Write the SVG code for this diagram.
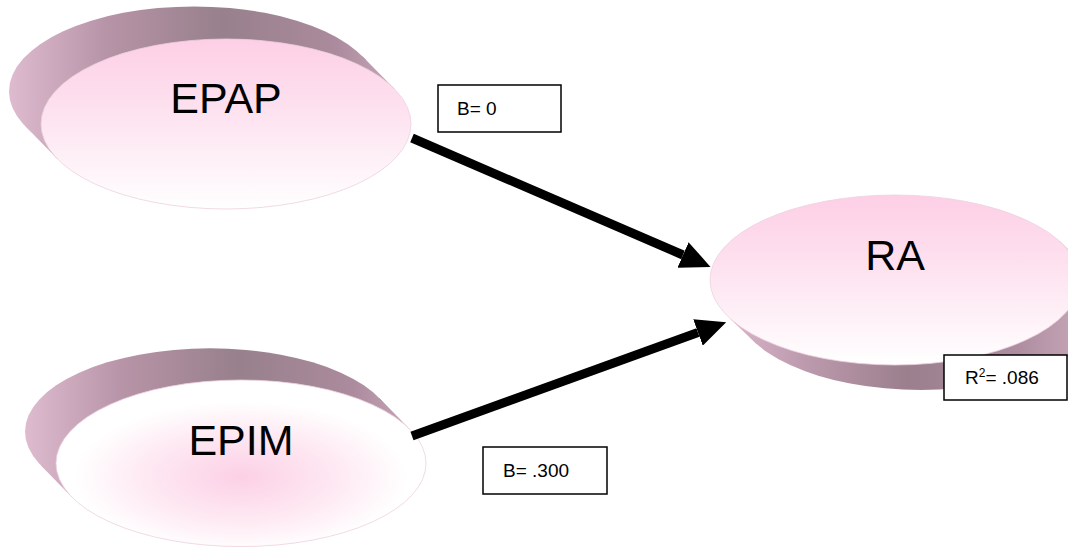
<svg xmlns="http://www.w3.org/2000/svg" width="1068" height="548" viewBox="0 0 1068 548">
<style>
.lbl{font-family:"Liberation Sans",Arial,sans-serif;font-size:43px;fill:#000;text-anchor:middle}
.val{font-family:"Liberation Sans",Arial,sans-serif;font-size:19px;fill:#000}
.box{fill:#fff;stroke:#000;stroke-width:1.5}
.front{stroke:#ecd0de;stroke-width:0.8}
.shaft{stroke:#000;stroke-width:9;fill:none}
</style>
<defs>
<linearGradient id="sideA" gradientUnits="userSpaceOnUse" x1="9" y1="0" x2="395" y2="0">
<stop offset="0" stop-color="#dfbbcf"/><stop offset="0.25" stop-color="#b794a7"/><stop offset="0.55" stop-color="#98808c"/><stop offset="0.85" stop-color="#ab8b9d"/><stop offset="1" stop-color="#c6a6b7"/>
</linearGradient>
<linearGradient id="sideB" gradientUnits="userSpaceOnUse" x1="25" y1="0" x2="411" y2="0">
<stop offset="0" stop-color="#dfbbcf"/><stop offset="0.25" stop-color="#b794a7"/><stop offset="0.55" stop-color="#98808c"/><stop offset="0.85" stop-color="#ab8b9d"/><stop offset="1" stop-color="#c6a6b7"/>
</linearGradient>
<linearGradient id="sideC" gradientUnits="userSpaceOnUse" x1="725" y1="0" x2="1090" y2="0">
<stop offset="0" stop-color="#dcb6ca"/><stop offset="0.2" stop-color="#bf9cb0"/><stop offset="0.5" stop-color="#9b7f8d"/><stop offset="0.8" stop-color="#ad8d9f"/><stop offset="1" stop-color="#caa9bb"/>
</linearGradient>
<linearGradient id="frontV" x1="0" y1="0" x2="0" y2="1">
<stop offset="0" stop-color="#fdcfe6"/><stop offset="0.45" stop-color="#fde3f0"/><stop offset="1" stop-color="#ffffff"/>
</linearGradient>
<radialGradient id="frontR" cx="0.5" cy="0.58" r="0.45">
<stop offset="0" stop-color="#fcd0e6"/><stop offset="0.6" stop-color="#feeaf3"/><stop offset="1" stop-color="#ffffff"/>
</radialGradient>
<marker id="head" markerUnits="userSpaceOnUse" viewBox="0 0 10 10" refX="0" refY="5" markerWidth="30" markerHeight="28" orient="auto" preserveAspectRatio="none">
<path d="M0,0 L10,5 L0,10 z" fill="#000"/>
</marker>
</defs>

<g id="node-EPAP">
<ellipse cx="194" cy="91.4" rx="185" ry="85" fill="url(#sideA)"/>
<polygon points="394.6,89.1 362.6,56.5 25.4,126.3 57.4,158.9" fill="url(#sideA)"/>
<ellipse class="front" cx="226" cy="124" rx="185" ry="85" fill="url(#frontV)"/>
<text class="lbl" x="226" y="113">EPAP</text>
</g>

<g id="node-EPIM">
<ellipse cx="210" cy="431.6" rx="185" ry="83.3" fill="url(#sideB)"/>
<polygon points="410.3,429.7 379.3,398 40.7,465.2 71.7,496.9" fill="url(#sideB)"/>
<ellipse class="front" cx="241" cy="463.3" rx="185" ry="83.3" fill="url(#frontR)"/>
<text class="lbl" x="241" y="455">EPIM</text>
</g>

<g id="node-RA">
<ellipse cx="921" cy="305" rx="185" ry="85" fill="url(#sideC)"/>
<polygon points="730.5,318.9 756.5,343.9 1085.5,266.1 1059.5,241.1" fill="url(#sideC)"/>
<ellipse class="front" cx="895" cy="280" rx="185" ry="85" fill="url(#frontV)"/>
<text class="lbl" x="895" y="270">RA</text>
</g>

<g id="connectors">
<line class="shaft" x1="412" y1="138" x2="683" y2="255" marker-end="url(#head)"/>
<line class="shaft" x1="412" y1="436" x2="698" y2="332.5" marker-end="url(#head)"/>
</g>

<g id="label-B0">
<rect class="box" x="438" y="85" width="123" height="47"/>
<text class="val" x="457" y="115">B= 0</text>
</g>

<g id="label-B300">
<rect class="box" x="483" y="447" width="124" height="47"/>
<text class="val" x="503" y="477">B= .300</text>
</g>

<g id="label-R2">
<rect class="box" x="944" y="355" width="123" height="45"/>
<text class="val" x="965" y="384">R<tspan font-size="12" dy="-7">2</tspan><tspan dy="7">= .086</tspan></text>
</g>
</svg>
